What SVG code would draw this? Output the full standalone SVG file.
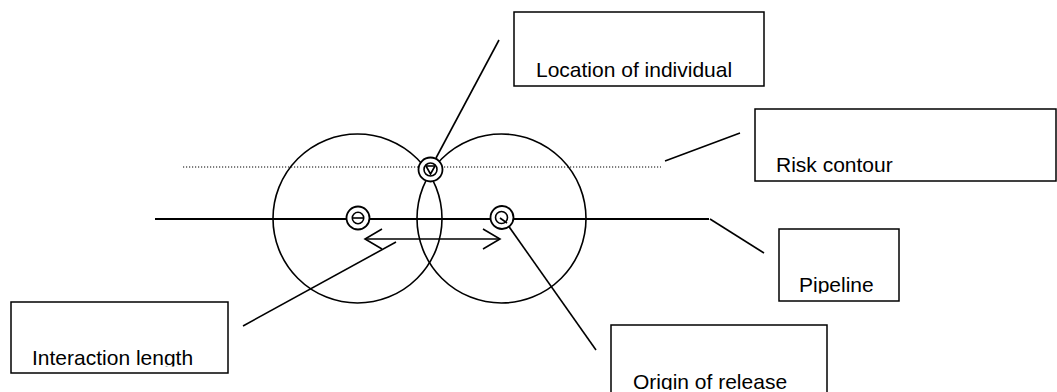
<svg xmlns="http://www.w3.org/2000/svg" width="1057" height="392" viewBox="0 0 1057 392">
  <style>
    .box { fill: #fff; stroke: #000; stroke-width: 1.5; }
    .lbl { font-family: "Liberation Sans", Arial, sans-serif; font-size: 21px; fill: #000; }
    .ln { stroke: #000; stroke-width: 1.6; fill: none; }
    .ring { stroke: #000; stroke-width: 1.6; fill: none; }
    .mark { stroke: #000; stroke-width: 1.8; fill: #fff; }
  </style>
  <defs>
    <!-- descenders of the labels are cut just below the baseline -->
    <clipPath id="cl-loc"><rect x="514" y="12" width="250" height="66.5"/></clipPath>
    <clipPath id="cl-risk"><rect x="755" y="109" width="302" height="64.5"/></clipPath>
    <clipPath id="cl-pipe"><rect x="779" y="229" width="120" height="64.5"/></clipPath>
    <clipPath id="cl-int"><rect x="11" y="302" width="217" height="64.5"/></clipPath>
    <clipPath id="cl-orig"><rect x="611" y="325" width="216" height="65"/></clipPath>
  </defs>

  <rect width="1057" height="392" fill="#fff"/>

  <!-- hazard circles, risk contour and pipeline -->
  <g id="scene">
    <line x1="183" y1="167" x2="661" y2="167" stroke="#000" stroke-width="1" stroke-dasharray="1.2,1.8"/>
    <line x1="155" y1="219" x2="709" y2="219" stroke="#000" stroke-width="2"/>
    <circle class="ring" cx="357.5" cy="218.5" r="84.5"/>
    <circle class="ring" cx="501.5" cy="218.5" r="84.5"/>
  </g>

  <!-- connectors -->
  <g id="connectors">
    <line class="ln" x1="436" y1="158" x2="499" y2="40"/>
    <line class="ln" x1="665" y1="161" x2="740" y2="133"/>
    <line class="ln" x1="710" y1="219" x2="764" y2="253"/>
    <line class="ln" x1="396" y1="242" x2="243" y2="326"/>
    <line class="ln" x1="505" y1="221" x2="596" y2="350"/>
    <!-- interaction length -->
    <line class="ln" x1="365" y1="239" x2="500" y2="239"/>
    <polyline class="ln" points="382,229 365,239 382,249"/>
    <polyline class="ln" points="483,229 500,239 483,249"/>
  </g>

  <!-- point markers -->
  <g id="release-a">
    <circle class="mark" cx="358" cy="218" r="11.5"/>
    <circle class="ring" cx="358" cy="218" r="5.7"/>
    <line class="ln" x1="352.3" y1="218" x2="363.7" y2="218"/>
  </g>
  <g id="release-b">
    <circle class="mark" cx="502" cy="217.5" r="11.5"/>
    <circle class="ring" cx="501.5" cy="217.5" r="6"/>
    <line class="ln" x1="500" y1="218" x2="507" y2="223"/>
  </g>
  <g id="individual">
    <circle class="mark" cx="430.5" cy="169.5" r="12"/>
    <circle class="ring" cx="430.5" cy="169.5" r="6.5"/>
    <polyline class="ln" points="426,166 430.5,174 435,166"/>
    <line class="ln" x1="426" y1="166" x2="435" y2="166"/>
  </g>

  <!-- labels -->
  <g id="location-of-individual">
    <rect class="box" x="514" y="12" width="250" height="74"/>
    <text class="lbl" x="536" y="77" clip-path="url(#cl-loc)">Location of individual</text>
  </g>
  <g id="risk-contour">
    <rect class="box" x="755" y="109" width="301" height="72"/>
    <text class="lbl" x="776" y="172" clip-path="url(#cl-risk)">Risk contour</text>
  </g>
  <g id="pipeline">
    <rect class="box" x="779" y="229" width="120" height="72"/>
    <text class="lbl" x="799" y="292" clip-path="url(#cl-pipe)">Pipeline</text>
  </g>
  <g id="interaction-length">
    <rect class="box" x="11" y="302" width="217" height="71"/>
    <text class="lbl" x="32" y="365" clip-path="url(#cl-int)">Interaction length</text>
  </g>
  <g id="origin-of-release">
    <rect class="box" x="611" y="325" width="216" height="80"/>
    <text class="lbl" x="633" y="389" clip-path="url(#cl-orig)">Origin of release</text>
  </g>
</svg>
